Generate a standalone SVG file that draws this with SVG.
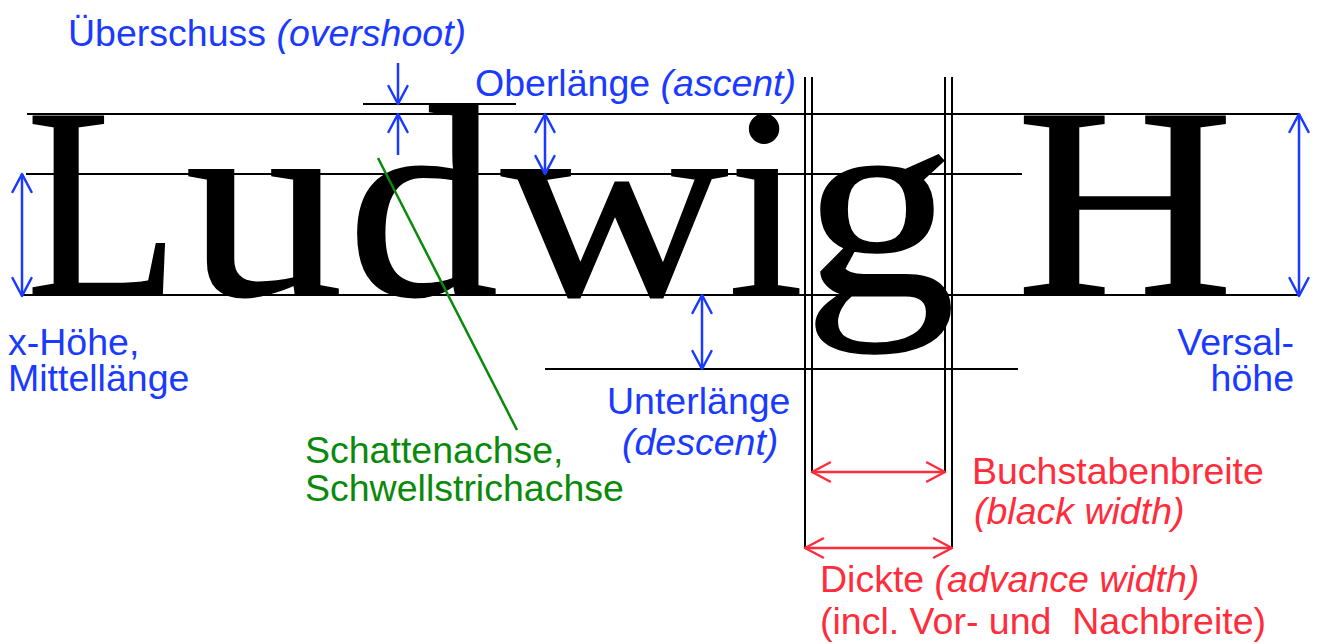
<svg xmlns="http://www.w3.org/2000/svg" width="1318" height="644" viewBox="0 0 1318 644">
<style>
.big{font-family:"Liberation Serif","Times New Roman",serif;font-size:273px;fill:#000;stroke:#000;stroke-width:1.5}
.lbl{font-family:"Liberation Sans",Arial,sans-serif;font-size:37.5px}
.blue{fill:#1a3aff}
.red{fill:#ff2d3c}
.green{fill:#0a8a0a}
.it{font-style:italic}
.gl{stroke:#000;stroke-width:2;fill:none}
.ba{stroke:#1a3aff;stroke-width:2.5;fill:none}
.ra{stroke:#ff2d3c;stroke-width:2.5;fill:none}
</style>
<defs>
<marker id="mb" viewBox="-20 -12 22 24" refX="0" refY="0" markerWidth="22" markerHeight="24" markerUnits="userSpaceOnUse" orient="auto-start-reverse">
<path d="M-18,-9.5 L0,0 L-18,9.5" fill="none" stroke="#1a3aff" stroke-width="2.5" stroke-linejoin="round" stroke-linecap="round"/>
</marker>
<marker id="mr" viewBox="-20 -12 22 24" refX="0" refY="0" markerWidth="22" markerHeight="24" markerUnits="userSpaceOnUse" orient="auto-start-reverse">
<path d="M-18,-9.5 L0,0 L-18,9.5" fill="none" stroke="#ff2d3c" stroke-width="2.5" stroke-linejoin="round" stroke-linecap="round"/>
</marker>
</defs>
<rect width="1318" height="644" fill="#fff"/>

<g id="word">
<text class="big" transform="translate(26,295) scale(0.92,1)">L</text>
<text class="big" transform="translate(185,295) scale(1.16,1)">u</text>
<text class="big" transform="translate(347,295) scale(1.11,1)">d</text>
<text class="big" transform="translate(501,295) scale(1.154,1)">w</text>
<text class="big" transform="translate(728,295)">i</text>
<text class="big" transform="translate(803,295) scale(1.12,1)">g</text>
<text class="big" transform="translate(1016,295) scale(1.105,1)">H</text>
</g>

<g id="guides">
<line class="gl" x1="363" y1="104" x2="516" y2="104"/>
<line class="gl" x1="27" y1="114" x2="1299" y2="114"/>
<line class="gl" x1="26" y1="174" x2="1022" y2="174"/>
<line class="gl" x1="22" y1="295" x2="1299" y2="295"/>
<line class="gl" x1="545" y1="369" x2="1018" y2="369"/>
<line class="gl" x1="805" y1="77" x2="805" y2="549"/>
<line class="gl" x1="812" y1="77" x2="812" y2="473"/>
<line class="gl" x1="945" y1="77" x2="945" y2="473"/>
<line class="gl" x1="952" y1="77" x2="952" y2="549"/>
</g>

<g id="connectors">
<line class="ba" x1="398" y1="63" x2="398" y2="104" marker-end="url(#mb)"/>
<line class="ba" x1="398" y1="155" x2="398" y2="114" marker-end="url(#mb)"/>
<line class="ba" x1="545" y1="114" x2="545" y2="174" marker-start="url(#mb)" marker-end="url(#mb)"/>
<line class="ba" x1="22" y1="174" x2="22" y2="296" marker-start="url(#mb)" marker-end="url(#mb)"/>
<line class="ba" x1="1299" y1="114" x2="1299" y2="296" marker-start="url(#mb)" marker-end="url(#mb)"/>
<line class="ba" x1="702" y1="295" x2="702" y2="369" marker-start="url(#mb)" marker-end="url(#mb)"/>
<line class="ra" x1="812" y1="472" x2="945" y2="472" marker-start="url(#mr)" marker-end="url(#mr)"/>
<line class="ra" x1="805" y1="548" x2="952" y2="548" marker-start="url(#mr)" marker-end="url(#mr)"/>
<line x1="378" y1="158" x2="517" y2="430" stroke="#0a8a0a" stroke-width="2.5"/>
</g>

<g id="label-overshoot"><text class="lbl blue" x="68" y="46">Überschuss <tspan class="it">(overshoot)</tspan></text></g>
<g id="label-ascent"><text class="lbl blue" x="475" y="96">Oberlänge <tspan class="it">(ascent)</tspan></text></g>
<g id="label-xheight"><text class="lbl blue" x="8" y="355">x-Höhe,</text><text class="lbl blue" x="8" y="391">Mittellänge</text></g>
<g id="label-versal"><text class="lbl blue" x="1294" y="355" text-anchor="end">Versal-</text><text class="lbl blue" x="1294" y="391" text-anchor="end">höhe</text></g>
<g id="label-descent"><text class="lbl blue" x="607" y="414">Unterlänge</text><text class="lbl blue it" x="622" y="455">(descent)</text></g>
<g id="label-axis"><text class="lbl green" x="305" y="463">Schattenachse,</text><text class="lbl green" x="305" y="501">Schwellstrichachse</text></g>
<g id="label-black"><text class="lbl red" x="972" y="484">Buchstabenbreite</text><text class="lbl red it" x="974" y="524">(black width)</text></g>
<g id="label-advance"><text class="lbl red" x="820" y="592">Dickte <tspan class="it">(advance width)</tspan></text><text class="lbl red" x="820" y="634" xml:space="preserve">(incl. Vor- und  Nachbreite)</text></g>
</svg>
